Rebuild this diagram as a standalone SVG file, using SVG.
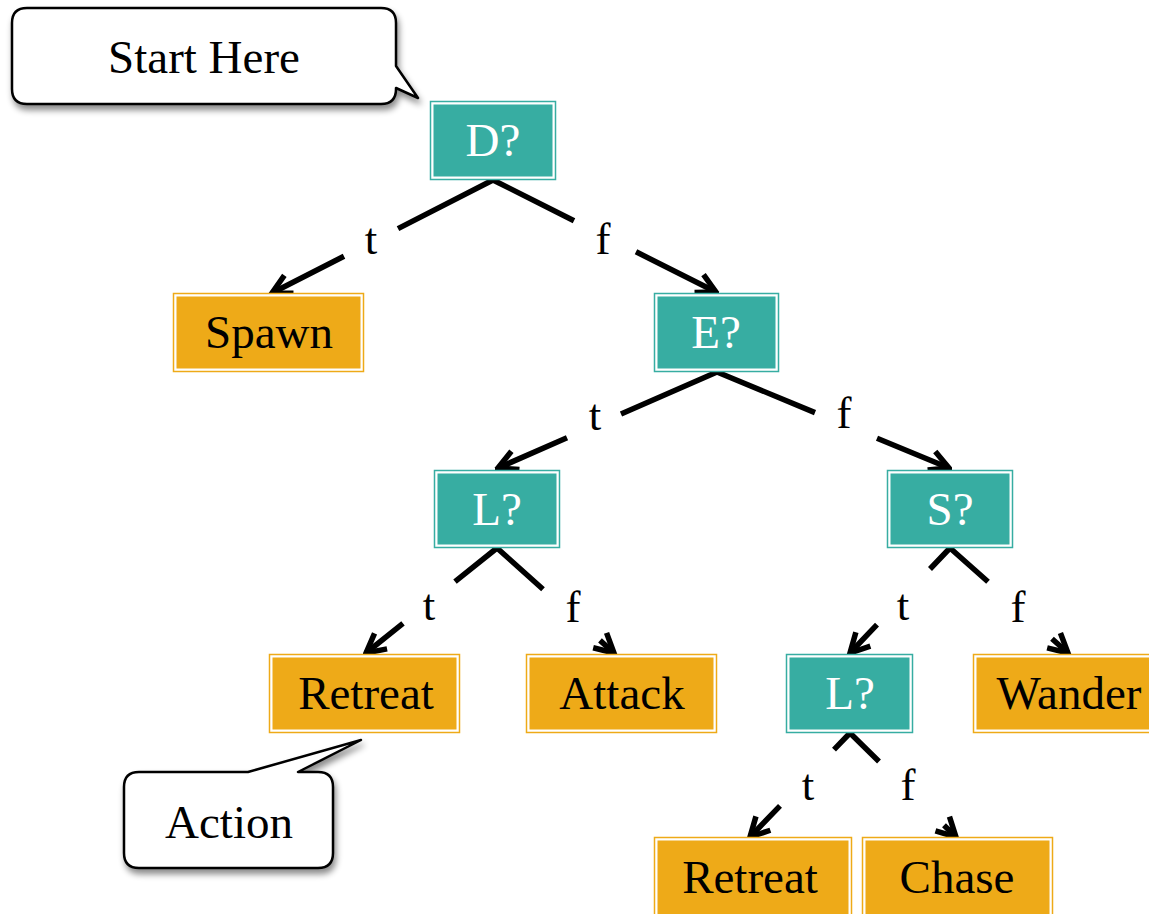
<svg xmlns="http://www.w3.org/2000/svg" width="1149" height="914" viewBox="0 0 1149 914">
<style>
.q rect.o{fill:#ffffff;stroke:#37ADA2;stroke-width:1.5}
.q rect.i{fill:#37ADA2}
.a rect.o{fill:#ffffff;stroke:#EEAA18;stroke-width:1.5}
.a rect.i{fill:#EEAA18}
text{font-family:"Liberation Serif","Times New Roman",serif;font-size:47px;text-anchor:middle}
.q text{fill:#ffffff}
.a text{fill:#000000}
.lbl{font-size:45px;fill:#000}
.e{fill:none;stroke:#000;stroke-width:5.5;marker-end:url(#arr)}
.call{fill:#fff;stroke:#000;stroke-width:2.5;stroke-linejoin:round;filter:url(#sh)}
</style>
<defs>
<marker id="arr" viewBox="0 0 26 26" markerWidth="26" markerHeight="26" refX="23" refY="13" orient="auto" markerUnits="userSpaceOnUse">
<path d="M4,3 L23,13 L4,23" fill="none" stroke="#000" stroke-width="5.5"/>
</marker>
<filter id="sh" x="-10%" y="-10%" width="130%" height="140%">
<feDropShadow dx="2" dy="5" stdDeviation="3" flood-color="#000" flood-opacity="0.45"/>
</filter>
</defs>

<g id="connectors">
<path class="e" d="M493,180 L398,228.6 M344,256.2 L272,293"/>
<path class="e" d="M493,180 L574,220.7 M636,251.8 L716,292"/>
<path class="e" d="M717,372 L621,414.1 M567,437.8 L498,468"/>
<path class="e" d="M717,372 L815,412.6 M877,438.2 L949,468"/>
<path class="e" d="M497,548 L455,581.7 M403,623.3 L366,653"/>
<path class="e" d="M497,548 L543,589.3 M600,640.4 L614,653"/>
<path class="e" d="M950,548 L930,569 M877,624.7 L850,653"/>
<path class="e" d="M950,548 L988,581.8 M1052,638.8 L1068,653"/>
<path class="e" d="M850,733 L834,749.6 M780,805.8 L750,837"/>
<path class="e" d="M850,733 L879,761.5 M944,825.2 L956,837"/>
<text class="lbl" x="371" y="254">t</text>
<text class="lbl" x="603" y="254">f</text>
<text class="lbl" x="595" y="430">t</text>
<text class="lbl" x="844" y="428">f</text>
<text class="lbl" x="429" y="620">t</text>
<text class="lbl" x="573" y="622">f</text>
<text class="lbl" x="903" y="620">t</text>
<text class="lbl" x="1018" y="622">f</text>
<text class="lbl" x="808" y="800">t</text>
<text class="lbl" x="908" y="800">f</text>
</g>

<g id="callout-start">
<path class="call" d="M27,8 H381 Q396,8 396,23 V66 L418,98 L396,88 V89 Q396,104 381,104 H27 Q12,104 12,89 V23 Q12,8 27,8 Z"/>
<text x="204" y="73">Start Here</text>
</g>

<g id="callout-action">
<path class="call" d="M139,772 H248 L361,740 L298,772 H318 Q333,772 333,787 V853 Q333,868 318,868 H139 Q124,868 124,853 V787 Q124,772 139,772 Z"/>
<text x="229" y="838">Action</text>
</g>

<g id="n-D" class="q"><rect class="o" x="430.5" y="101.5" width="125" height="78"/><rect class="i" x="433.5" y="104.5" width="119" height="72"/><text x="493" y="156">D?</text></g>
<g id="n-Spawn" class="a"><rect class="o" x="173.5" y="293.5" width="190" height="78"/><rect class="i" x="176.5" y="296.5" width="184" height="72"/><text x="269" y="348">Spawn</text></g>
<g id="n-E" class="q"><rect class="o" x="654.5" y="293.5" width="124" height="78"/><rect class="i" x="657.5" y="296.5" width="118" height="72"/><text x="716" y="348">E?</text></g>
<g id="n-L1" class="q"><rect class="o" x="434.5" y="470.5" width="125" height="77"/><rect class="i" x="437.5" y="473.5" width="119" height="71"/><text x="497" y="525">L?</text></g>
<g id="n-S" class="q"><rect class="o" x="887.5" y="470.5" width="125" height="77"/><rect class="i" x="890.5" y="473.5" width="119" height="71"/><text x="950" y="525">S?</text></g>
<g id="n-Retreat1" class="a"><rect class="o" x="269.5" y="654.5" width="190" height="78"/><rect class="i" x="272.5" y="657.5" width="184" height="72"/><text x="366" y="709">Retreat</text></g>
<g id="n-Attack" class="a"><rect class="o" x="526.5" y="654.5" width="190" height="78"/><rect class="i" x="529.5" y="657.5" width="184" height="72"/><text x="622" y="709">Attack</text></g>
<g id="n-L2" class="q"><rect class="o" x="786.5" y="654.5" width="126" height="78"/><rect class="i" x="789.5" y="657.5" width="120" height="72"/><text x="850" y="709">L?</text></g>
<g id="n-Wander" class="a"><rect class="o" x="973.5" y="654.5" width="190" height="78"/><rect class="i" x="976.5" y="657.5" width="184" height="72"/><text x="1069" y="709">Wander</text></g>
<g id="n-Retreat2" class="a"><rect class="o" x="654.5" y="837.5" width="197" height="80"/><rect class="i" x="657.5" y="840.5" width="191" height="80"/><text x="750" y="893">Retreat</text></g>
<g id="n-Chase" class="a"><rect class="o" x="862.5" y="837.5" width="190" height="80"/><rect class="i" x="865.5" y="840.5" width="184" height="80"/><text x="957" y="893">Chase</text></g>
</svg>
